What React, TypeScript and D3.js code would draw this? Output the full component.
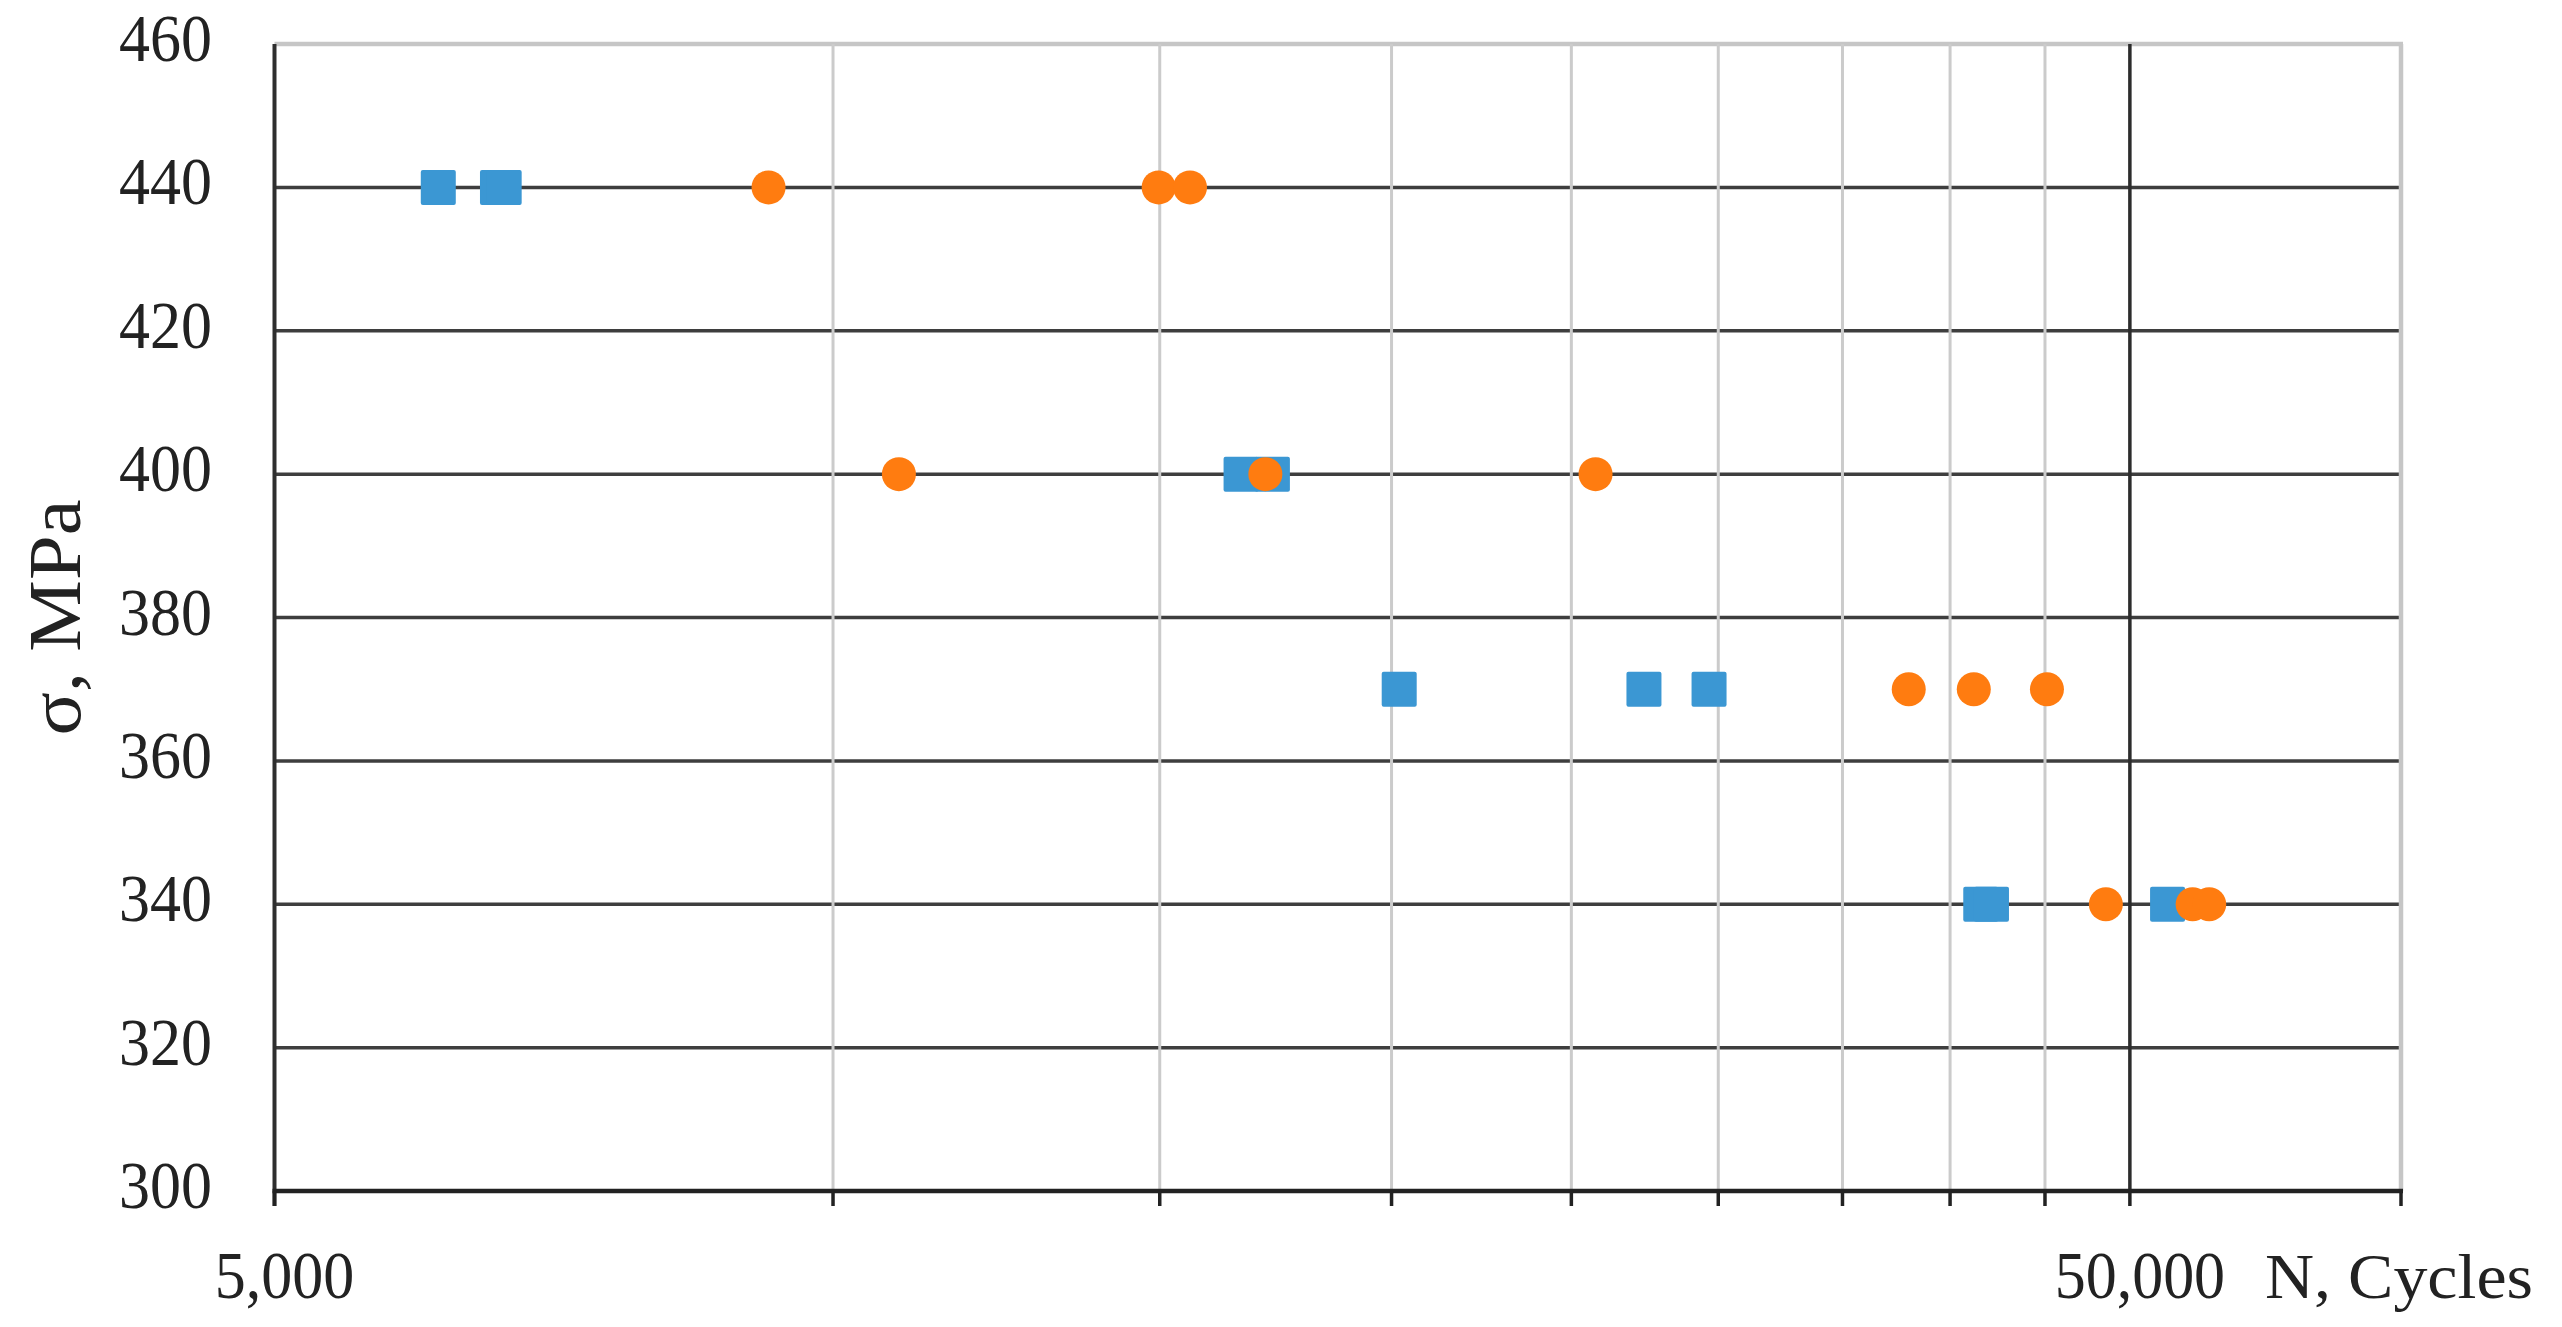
import React from "react";
import * as d3 from "d3";

// ---- data ----
const Y_TICKS = [300, 320, 340, 360, 380, 400, 420, 440, 460];
const X_TICKS = [5000, 10000, 15000, 20000, 25000, 30000, 35000, 40000, 45000, 50000, 70000];
const X_GRID_LIGHT = [10000, 15000, 20000, 25000, 30000, 35000, 40000, 45000];
const X_GRID_DARK = [50000];
const X_LABELS = [5000, 50000];

const blueCycles = [6127, 6594, 6649, 16593, 17251, 20191, 27357, 29659, 41553, 42109, 52394];
const blueStress = [440, 440, 440, 400, 400, 370, 370, 370, 340, 340, 340];

const orangeCycles = [9231, 14980, 15574, 10852, 17101, 25762, 38000, 41195, 45110, 48532, 54050, 55173];
const orangeStress = [440, 440, 440, 400, 400, 400, 370, 370, 370, 340, 340, 340];

const Y_TITLE = "σ, MPa";
const X_TITLE = "N, Cycles";

const W = 2562;
const H = 1327;
const FONT = "'Liberation Serif', 'Times New Roman', serif";

export default function App() {
  const x = d3.scaleLog().domain([5000, 70000]).range([274.5, 2401]);
  const y = d3.scaleLinear().domain([300, 460]).range([1191, 44]);
  const fmt = d3.format(",");
  const [x0, x1] = x.range();
  const [yb, yt] = y.range();
  const sq = 35;

  return (
    <svg
      width={W}
      height={H}
      viewBox={`0 0 ${W} ${H}`}
      style={{ position: "absolute", left: 0, top: 0, background: "#fff" }}
    >
      <rect x={0} y={0} width={W} height={H} fill="#fff" />
      {/* horizontal dark gridlines */}
      {Y_TICKS.filter((v) => v > 300 && v < 460).map((v) => (
        <line key={"h" + v} x1={x0} x2={x1} y1={y(v)} y2={y(v)} stroke="#3e3e3e" strokeWidth={3.5} />
      ))}
      {/* top border */}
      <line x1={x0} x2={x1 + 2} y1={y(460)} y2={y(460)} stroke="#c6c6c6" strokeWidth={4.5} />
      {/* vertical light gridlines */}
      {X_GRID_LIGHT.map((v) => (
        <line key={"v" + v} x1={x(v)} x2={x(v)} y1={yt} y2={yb} stroke="#cbcbcb" strokeWidth={3} />
      ))}
      {/* right border */}
      <line x1={x1} x2={x1} y1={yt} y2={yb} stroke="#c6c6c6" strokeWidth={4.5} />
      {/* dark vertical line */}
      {X_GRID_DARK.map((v) => (
        <line key={"d" + v} x1={x(v)} x2={x(v)} y1={yt} y2={yb} stroke="#2c2c2c" strokeWidth={3.5} />
      ))}
      {/* left axis */}
      <line x1={x0} x2={x0} y1={yt} y2={yb + 15} stroke="#2e2e2e" strokeWidth={4} />
      {/* bottom axis */}
      <line x1={x0 - 2} x2={x1 + 2} y1={yb} y2={yb} stroke="#222" strokeWidth={4.5} />
      {X_TICKS.map((v) => (
        <line key={"t" + v} x1={x(v)} x2={x(v)} y1={yb} y2={yb + 15} stroke="#222" strokeWidth={3.5} />
      ))}

      {/* markers */}
      {blueCycles.map((n, i) => (
        <rect
          key={"b" + i}
          x={x(n) - sq / 2}
          y={y(blueStress[i]) - sq / 2}
          width={sq}
          height={sq}
          rx={2}
          fill="#3b97d3"
        />
      ))}
      {orangeCycles.map((n, i) => (
        <circle key={"o" + i} cx={x(n)} cy={y(orangeStress[i])} r={17} fill="#ff7c10" />
      ))}

      {/* y tick labels */}
      {Y_TICKS.map((v) => (
        <g key={"yl" + v} transform={`translate(212, ${y(v) + 17}) scale(1, 1.08)`}>
          <text x={0} y={0} textAnchor="end" fontFamily={FONT} fontSize={62} fill="#222">
            {v}
          </text>
        </g>
      ))}
      {/* x tick labels */}
      {X_LABELS.map((v) => (
        <g key={"xl" + v} transform={`translate(${x(v) + 10}, 1298) scale(1, 1.08)`}>
          <text x={0} y={0} textAnchor="middle" fontFamily={FONT} fontSize={62} fill="#222">
            {fmt(v)}
          </text>
        </g>
      ))}
      {/* x title */}
      <text
        x={2265}
        y={1298}
        fontFamily={FONT}
        fontSize={64}
        fill="#222"
        textLength={268}
        lengthAdjust="spacingAndGlyphs"
      >
        {X_TITLE}
      </text>
      {/* y title */}
      <text
        transform={`translate(80, ${(yt + yb) / 2}) rotate(-90)`}
        textAnchor="middle"
        fontFamily={FONT}
        fontSize={75}
        fill="#222"
        textLength={236}
        lengthAdjust="spacingAndGlyphs"
      >
        {Y_TITLE}
      </text>
    </svg>
  );
}
